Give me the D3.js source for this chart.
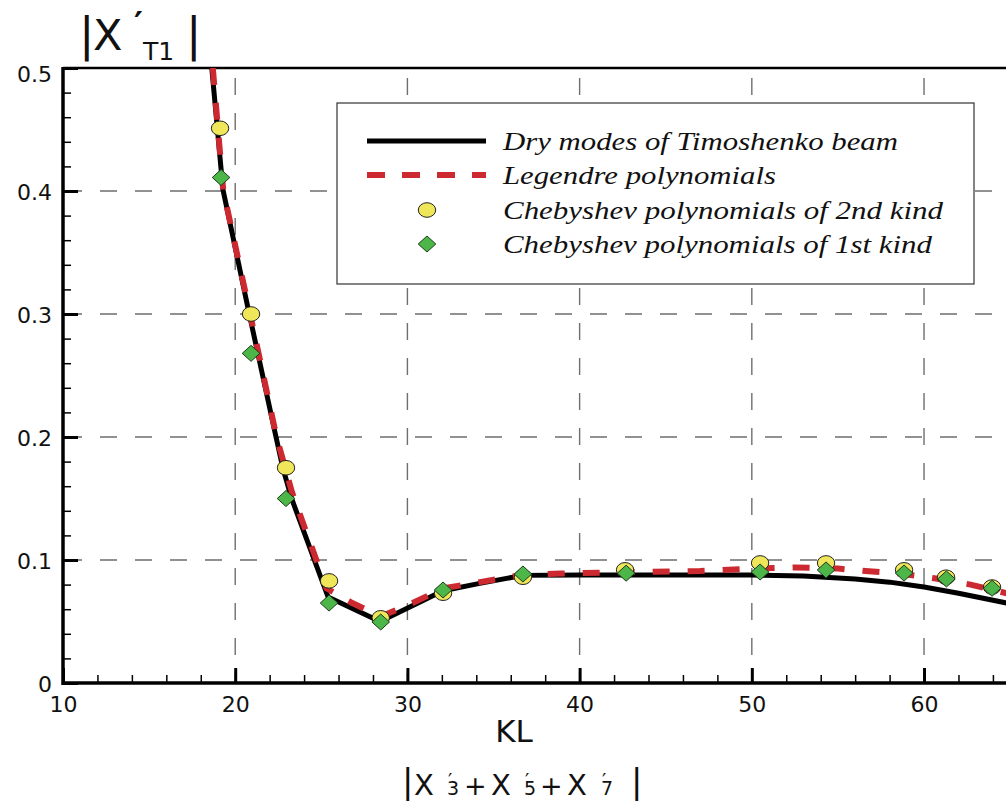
<!DOCTYPE html>
<html>
<head>
<meta charset="utf-8">
<script src="https://cdn.jsdelivr.net/npm/d3@7"></script>
<style>
  html, body { margin: 0; padding: 0; background: #fff; }
  svg { display: block; }
</style>
</head>
<body>
<svg id="chart" width="1006" height="803"></svg>
<script>
// ---------------- data ----------------
const xMajorTicks = [10, 20, 30, 40, 50, 60];
const xMinorTicks = [12, 14, 16, 18, 22, 24, 26, 28, 32, 34, 36, 38, 42, 44, 46, 48, 52, 54, 56, 58, 62, 64];
const yMajorTicks = [0, 0.1, 0.2, 0.3, 0.4, 0.5];
const yTickLabels = ["0", "0.1", "0.2", "0.3", "0.4", "0.5"];
const yMinorTicks = [0.02, 0.04, 0.06, 0.08, 0.12, 0.14, 0.16, 0.18, 0.22, 0.24, 0.26, 0.28, 0.32, 0.34, 0.36, 0.38, 0.42, 0.44, 0.46, 0.48];

const dryKL  = [18.64, 19.29, 20.8, 22.37, 22.78, 23.3, 25.39, 28.41, 32.07, 34.2, 36.7, 40, 45, 50, 53, 56, 58, 60, 62, 64.8];
const dryVal = [0.5, 0.401, 0.301, 0.2, 0.174, 0.149, 0.07, 0.05, 0.075, 0.081, 0.0875, 0.0878, 0.0878, 0.0878, 0.087, 0.0845, 0.082, 0.078, 0.073, 0.065];

const legKL  = [18.7, 19.3, 20.85, 22.4, 23.3, 25.3, 26.8, 28.45, 30.3, 32.1, 34.2, 36.7, 38.9, 42, 47, 50, 52.5, 55, 56.6, 58.6, 60.7, 62.7, 64.8];
const legVal = [0.5, 0.401, 0.301, 0.2, 0.155, 0.077, 0.065, 0.054, 0.065, 0.077, 0.082, 0.088, 0.089, 0.09, 0.091, 0.093, 0.094, 0.093, 0.091, 0.089, 0.085, 0.08, 0.073];

const cheb2KL  = [19.12, 20.92, 22.95, 25.45, 28.45, 32.07, 36.71, 42.64, 50.48, 54.31, 58.84, 61.28, 63.95];
const cheb2Val = [0.451, 0.300, 0.175, 0.083, 0.053, 0.073, 0.086, 0.092, 0.0976, 0.0976, 0.092, 0.086, 0.078];

const cheb1KL  = [19.18, 20.92, 22.95, 25.45, 28.45, 32.07, 36.71, 42.7, 50.48, 54.31, 58.84, 61.3, 63.95];
const cheb1Val = [0.411, 0.268, 0.150, 0.065, 0.0496, 0.0756, 0.0886, 0.0893, 0.0902, 0.0919, 0.0894, 0.0846, 0.077];

const legendLabels = [
  "Dry modes of Timoshenko beam",
  "Legendre polynomials",
  "Chebyshev polynomials of 2nd kind",
  "Chebyshev polynomials of 1st kind"
];

// ---------------- layout ----------------
const L = 63, R = 1006, T = 68, B = 683;
const svg = d3.select("#chart");
const x = d3.scaleLinear().domain([10, 64.76]).range([L, R]);
const y = d3.scaleLinear().domain([0, 0.5]).range([B, T]);
const sans = "'DejaVu Sans', Verdana, sans-serif";

svg.append("defs").append("clipPath").attr("id", "clip")
  .append("rect").attr("x", L).attr("y", T).attr("width", R - L).attr("height", B - T);

// grid
const grid = svg.append("g").attr("stroke", "#6e6e6e").attr("stroke-width", 1.4)
  .attr("stroke-dasharray", "17,18").attr("fill", "none");
grid.selectAll("line.v").data(xMajorTicks.slice(1)).join("line")
  .attr("x1", d => x(d)).attr("x2", d => x(d)).attr("y1", T).attr("y2", B)
  .attr("stroke-dashoffset", 25);
grid.selectAll("line.h").data(yMajorTicks.slice(1, 5)).join("line")
  .attr("x1", L).attr("x2", R).attr("y1", d => y(d)).attr("y2", d => y(d))
  .attr("stroke-dashoffset", -2);

// axes
const gx = svg.append("g").attr("transform", `translate(0,${B})`)
  .call(d3.axisBottom(x).tickValues(xMajorTicks).tickSize(-15).tickPadding(13).tickFormat(d3.format("d")));
gx.select(".domain").remove();
gx.selectAll(".tick line").attr("stroke", "#000").attr("stroke-width", 3);
gx.selectAll(".tick text").attr("font-family", sans).attr("font-size", 22).attr("fill", "#111");

const gxm = svg.append("g").attr("transform", `translate(0,${B})`)
  .call(d3.axisBottom(x).tickValues(xMinorTicks).tickSize(-8).tickFormat(""));
gxm.select(".domain").remove();
gxm.selectAll(".tick line").attr("stroke", "#000").attr("stroke-width", 1.5);

const gy = svg.append("g").attr("transform", `translate(${L},0)`)
  .call(d3.axisLeft(y).tickValues(yMajorTicks).tickSize(-15).tickPadding(11).tickFormat((d, i) => yTickLabels[i]));
gy.select(".domain").remove();
gy.selectAll(".tick line").attr("stroke", "#000").attr("stroke-width", 3);
gy.selectAll(".tick text").attr("font-family", sans).attr("font-size", 22).attr("fill", "#111")
  .attr("dy", (d) => d === 0.5 ? "0.62em" : "0.38em");

const gym = svg.append("g").attr("transform", `translate(${L},0)`)
  .call(d3.axisLeft(y).tickValues(yMinorTicks).tickSize(-8).tickFormat(""));
gym.select(".domain").remove();
gym.selectAll(".tick line").attr("stroke", "#000").attr("stroke-width", 1.5);

// frame
svg.append("line").attr("x1", L).attr("x2", R).attr("y1", T).attr("y2", T).attr("stroke", "#000").attr("stroke-width", 2.5);
svg.append("line").attr("x1", L).attr("x2", L).attr("y1", T - 1).attr("y2", B + 2).attr("stroke", "#000").attr("stroke-width", 3.5);
svg.append("line").attr("x1", L - 1).attr("x2", R).attr("y1", B).attr("y2", B).attr("stroke", "#000").attr("stroke-width", 3.5);

// series
const plot = svg.append("g").attr("clip-path", "url(#clip)");
const lineGen = d3.line().x(d => x(d[0])).y(d => y(d[1]));

plot.append("path").datum(dryKL.map((k, i) => [k, dryVal[i]]))
  .attr("d", lineGen).attr("fill", "none").attr("stroke", "#000").attr("stroke-width", 5)
  .attr("stroke-linejoin", "round");
plot.append("path").datum(legKL.map((k, i) => [k, legVal[i]]))
  .attr("d", lineGen).attr("fill", "none").attr("stroke", "#cc2a30").attr("stroke-width", 6)
  .attr("stroke-dasharray", "17,18");

const yellow = "#efe65a", green = "#4cb648";
plot.selectAll("ellipse.c2").data(cheb2KL.map((k, i) => [k, cheb2Val[i]])).join("ellipse")
  .attr("cx", d => x(d[0])).attr("cy", d => y(d[1])).attr("rx", 8.7).attr("ry", 7.3)
  .attr("fill", yellow).attr("stroke", "#222").attr("stroke-width", 1);
const diamond = (cx, cy) => `M${cx},${cy - 8}L${cx + 8.8},${cy}L${cx},${cy + 8}L${cx - 8.8},${cy}Z`;
plot.selectAll("path.c1").data(cheb1KL.map((k, i) => [k, cheb1Val[i]])).join("path")
  .attr("d", d => diamond(x(d[0]), y(d[1])))
  .attr("fill", green).attr("stroke", "#1d3a1a").attr("stroke-width", 1);

// legend
const lg = svg.append("g");
lg.append("rect").attr("x", 337).attr("y", 103).attr("width", 637).attr("height", 181)
  .attr("fill", "#fff").attr("stroke", "#333").attr("stroke-width", 1.2);
const rowY = [141, 175, 210, 244];
const textW = [395, 273, 440, 429];
lg.append("line").attr("x1", 367).attr("x2", 486).attr("y1", rowY[0]).attr("y2", rowY[0])
  .attr("stroke", "#000").attr("stroke-width", 5);
lg.append("line").attr("x1", 367).attr("x2", 486).attr("y1", rowY[1]).attr("y2", rowY[1])
  .attr("stroke", "#cc2a30").attr("stroke-width", 6).attr("stroke-dasharray", "18,17");
lg.append("ellipse").attr("cx", 427).attr("cy", rowY[2]).attr("rx", 8.7).attr("ry", 7.3)
  .attr("fill", yellow).attr("stroke", "#222").attr("stroke-width", 1);
lg.append("path").attr("d", diamond(427, rowY[3])).attr("fill", green).attr("stroke", "#1d3a1a").attr("stroke-width", 1);
lg.selectAll("text").data(legendLabels).join("text")
  .attr("x", 503).attr("y", (d, i) => rowY[i] + 9)
  .attr("font-family", "'Liberation Serif', 'Times New Roman', serif")
  .attr("font-style", "italic").attr("font-size", 26).attr("fill", "#111")
  .attr("textLength", (d, i) => textW[i]).attr("lengthAdjust", "spacingAndGlyphs")
  .text(d => d);

// axis titles
svg.append("text").attr("x", 514).attr("y", 742).attr("text-anchor", "middle")
  .attr("font-family", sans).attr("font-size", 31).attr("fill", "#111").text("KL");

// y title |X'T1|
const yt = svg.append("text").attr("font-family", sans).attr("fill", "#111");
yt.append("tspan").attr("x", 79).attr("y", 50).attr("font-size", 46).text("|");
yt.append("tspan").attr("x", 93).attr("y", 50).attr("font-size", 43).text("X");
yt.append("tspan").attr("x", 134).attr("y", 36).attr("font-size", 34).attr("font-weight", "bold").text("′");
yt.append("tspan").attr("x", 143).attr("y", 60).attr("font-size", 25).text("T1");
yt.append("tspan").attr("x", 186).attr("y", 50).attr("font-size", 46).text("|");

// bottom formula |X'3 + X'5 + X'7|
const bf = svg.append("text").attr("font-family", sans).attr("fill", "#111");
const parts = [
  { xX: 414, xs: 447, s: "3", plus: 464 },
  { xX: 491, xs: 524, s: "5", plus: 540 },
  { xX: 567, xs: 601, s: "7", plus: null }
];
bf.append("tspan").attr("x", 402).attr("y", 793).attr("font-size", 34).text("|");
parts.forEach(p => {
  bf.append("tspan").attr("x", p.xX).attr("y", 795).attr("font-size", 29).text("X");
  bf.append("tspan").attr("x", `${p.xs} ${p.xs + 1}`).attr("y", "795 787")
    .attr("font-size", 19).text(p.s + "′");
  if (p.plus !== null) bf.append("tspan").attr("x", p.plus).attr("y", 795).attr("font-size", 27).text("+");
});
bf.append("tspan").attr("x", 631).attr("y", 793).attr("font-size", 34).text("|");
</script>
</body>
</html>
